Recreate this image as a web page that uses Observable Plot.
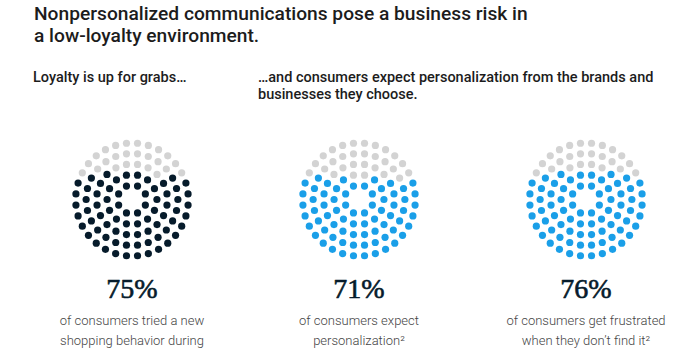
<!DOCTYPE html>
<html><head><meta charset="utf-8">
<script src="https://cdn.jsdelivr.net/npm/d3@7"></script>
<script src="https://cdn.jsdelivr.net/npm/@observablehq/plot@0.6"></script>
<style>
body{margin:0;background:#fff;width:700px;height:352px;overflow:hidden;position:relative;font-family:Roboto,"Liberation Sans",sans-serif;}
#title{position:absolute;left:34px;top:3px;font-size:19.2px;font-weight:500;line-height:22px;color:#1c1c1c;white-space:nowrap;}
.sub{position:absolute;top:70px;font-size:14.5px;font-weight:500;line-height:16.5px;color:#1c1c1c;white-space:nowrap;}
#chart{position:absolute;left:0;top:110px;}
</style></head><body>
<div id="title">Nonpersonalized communications pose a business risk in<br>a low-loyalty environment.</div>
<div class="sub" style="left:33px">Loyalty is up for grabs…</div>
<div class="sub" style="left:258px">…and consumers expect personalization from the brands and<br>businesses they choose.</div>
<div id="chart"></div>
<script>
const panels = ["loyalty", "expect", "frustrated"];
const percents = [75, 71, 76];
const percentLabels = ["75%", "71%", "76%"];
const captions = [
  "of consumers tried a new\nshopping behavior during\nthe pandemic¹",
  "of consumers expect\npersonalization²",
  "of consumers get frustrated\nwhen they don’t find it²"
];
const fillKinds = ["dark", "blue", "blue"];
const ringCounts = [8, 14, 20, 26, 32];
const ringRadii = [14.5, 25, 35.5, 46, 56.5];

const dots = [];
panels.forEach((p, i) => {
  const pts = [];
  ringCounts.forEach((n, k) => {
    for (let j = 0; j < n; j++) {
      const a = (j + 0.5) / n * 2 * Math.PI;
      pts.push({x: ringRadii[k] * Math.sin(a), y: -ringRadii[k] * Math.cos(a)});
    }
  });
  pts.sort((a, b) => (Math.round(b.y * 1e4) - Math.round(a.y * 1e4)) || (a.x - b.x));
  pts.forEach((d, m) => dots.push({panel: p, x: d.x, y: d.y, kind: m < percents[i] ? fillKinds[i] : "empty"}));
});

const labelRows = panels.map((p, i) => ({panel: p, label: percentLabels[i], caption: captions[i]}));

const W = 700, H = 242, mL = 17, mR = 0;
const fw = (W - mL - mR) / 3;

const chart = Plot.plot({
  width: W, height: H,
  marginLeft: mL, marginRight: mR, marginTop: 0, marginBottom: 0,
  fx: {domain: panels, padding: 0, axis: null},
  x: {domain: [-fw / 2, fw / 2], axis: null},
  y: {domain: [-89, 153], range: [0, H], axis: null},
  color: {domain: ["dark", "blue", "empty"], range: ["#061b2b", "#1a9fe8", "#d3d3d3"]},
  marks: [
    Plot.dot(dots, {fx: "panel", x: "x", y: "y", r: 3.6, fill: "kind", stroke: null}),
    Plot.text(labelRows, {fx: "panel", text: "label", frameAnchor: "top", lineAnchor: "top", dy: 168,
      fontSize: 28, fontFamily: '"Liberation Serif", serif', fill: "#061b2b", stroke: "#061b2b", strokeWidth: 0.6}),
    Plot.text(labelRows, {fx: "panel", text: "caption", frameAnchor: "top", lineAnchor: "top", dy: 200,
      fontSize: 13, lineHeight: 1.54, fontWeight: 300, fontFamily: 'Roboto, sans-serif', fill: "#444"})
  ]
});
document.getElementById("chart").appendChild(chart);
</script>
</body></html>
